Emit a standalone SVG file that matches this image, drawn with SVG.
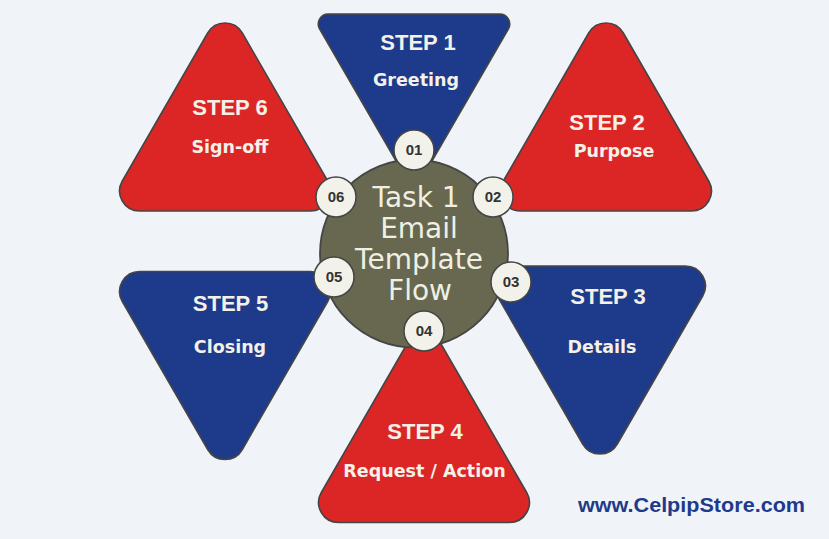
<svg xmlns="http://www.w3.org/2000/svg" xmlns:xlink="http://www.w3.org/1999/xlink" width="829" height="539" viewBox="0 0 829 539">
  <style>
    .tri { stroke: #454545; stroke-width: 1.6; stroke-linejoin: round; }
    .red { fill: #dc2626; }
    .blue { fill: #1e3a8a; }
    .title { font-family: "Liberation Sans", Arial, sans-serif; font-weight: bold; font-size: 22px; fill: #f3f1e8; text-anchor: middle; }
    .sub { font-family: "DejaVu Sans", sans-serif; font-weight: bold; font-size: 17.5px; fill: #f3f1e8; text-anchor: middle; }
    .badge { fill: #f2f2eb; stroke: #454545; stroke-width: 1.5; }
    .num { font-family: "Liberation Sans", Arial, sans-serif; font-weight: bold; font-size: 15px; fill: #333333; text-anchor: middle; }
    .center { font-family: "DejaVu Sans", sans-serif; font-size: 28px; fill: #efefe4; text-anchor: middle; }
  </style>
  <defs>
    <path id="up" d="M17.31,-73.99 L102.69,73.99 A20,20 0 0 1 85.36,104 L-85.36,104 A20,20 0 0 1 -102.69,73.99 L-17.31,-73.99 A20,20 0 0 1 17.31,-73.99 Z"/>
    <path id="down" d="M-17.31,73.99 L-102.69,-73.99 A20,20 0 0 1 -85.36,-104 L85.36,-104 A20,20 0 0 1 102.69,-73.99 L17.31,73.99 A20,20 0 0 1 -17.31,73.99 Z"/>
  </defs>
  <rect width="829" height="539" fill="#f0f4f9"/>

  <g id="connectors"></g>

  <g id="step1">
    <path class="tri blue" d="M405.32,177 L319.68,29 A10,10 0 0 1 328.32,14 L499.68,14 A10,10 0 0 1 508.32,29 L422.68,177 A10,10 0 0 1 405.32,177 Z"/>
    <text class="title" x="418" y="50">STEP 1</text>
    <text class="sub" x="416" y="86">Greeting</text>
  </g>
  <g id="step2">
    <use xlink:href="#up" class="tri red" transform="translate(606,107)"/>
    <text class="title" x="607" y="130">STEP 2</text>
    <text class="sub" x="614" y="157">Purpose</text>
  </g>
  <g id="step3">
    <use xlink:href="#down" class="tri blue" transform="translate(600,370)"/>
    <text class="title" x="608" y="304">STEP 3</text>
    <text class="sub" x="602" y="353">Details</text>
  </g>
  <g id="step4">
    <use xlink:href="#up" class="tri red" transform="translate(424,418.5)"/>
    <text class="title" x="425" y="439">STEP 4</text>
    <text class="sub" x="424.5" y="477">Request / Action</text>
  </g>
  <g id="step5">
    <use xlink:href="#down" class="tri blue" transform="translate(225,375.5)"/>
    <text class="title" x="230.5" y="311">STEP 5</text>
    <text class="sub" x="230" y="353">Closing</text>
  </g>
  <g id="step6">
    <use xlink:href="#up" class="tri red" transform="translate(225,107)"/>
    <text class="title" x="230" y="115">STEP 6</text>
    <text class="sub" x="230" y="153">Sign-off</text>
  </g>

  <g id="hub">
    <circle cx="414" cy="253.5" r="94" fill="#67684f" stroke="#454545" stroke-width="1.8"/>
    <text class="center" x="416" y="207">Task 1</text>
    <text class="center" x="419" y="238">Email</text>
    <text class="center" x="419" y="269">Template</text>
    <text class="center" x="420" y="300">Flow</text>
  </g>

  <g id="badge01"><circle class="badge" cx="414" cy="150" r="20"/><text class="num" x="414" y="155.3">01</text></g>
  <g id="badge02"><circle class="badge" cx="493" cy="197" r="20"/><text class="num" x="493" y="202.3">02</text></g>
  <g id="badge03"><circle class="badge" cx="511" cy="282" r="20"/><text class="num" x="511" y="287.3">03</text></g>
  <g id="badge04"><circle class="badge" cx="424" cy="331" r="20"/><text class="num" x="424" y="336.3">04</text></g>
  <g id="badge05"><circle class="badge" cx="334" cy="277" r="20"/><text class="num" x="334" y="282.3">05</text></g>
  <g id="badge06"><circle class="badge" cx="336" cy="197" r="20"/><text class="num" x="336" y="202.3">06</text></g>

  <g id="footer">
    <text x="691.5" y="512" text-anchor="middle" textLength="227" lengthAdjust="spacingAndGlyphs" font-family="Liberation Sans, Arial, sans-serif" font-weight="bold" font-size="20" fill="#1f3a8a">www.CelpipStore.com</text>
  </g>
</svg>
